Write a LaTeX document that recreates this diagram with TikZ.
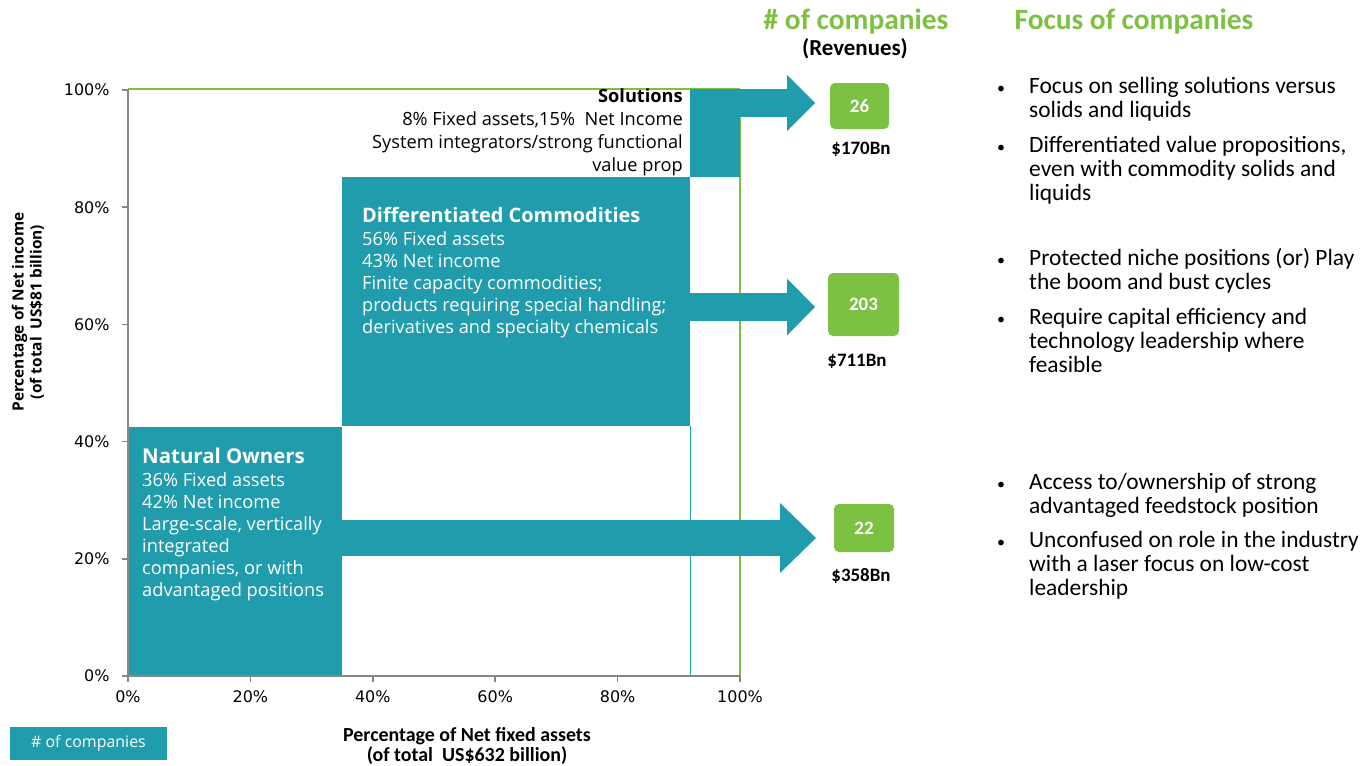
\documentclass[tikz,border=0pt]{standalone}
\usepackage{fontspec}
\setmainfont{Open Sans}
\newfontfamily\calfont{Carlito}
\newfontfamily\tickfont{DejaVu Sans}
\usetikzlibrary{arrows.meta}

\definecolor{boxteal}{RGB}{32,156,173}
\definecolor{leafgreen}{RGB}{125,193,66}
\definecolor{axisgray}{RGB}{134,134,134}

\tikzset{
  segment/.style={fill=boxteal,draw=none,inner sep=0pt,anchor=north west},
  flow/.style={draw=boxteal},
  count/.style={fill=leafgreen,rounded corners=5bp,text=white,inner sep=0pt,
    font=\calfont\bfseries\fontsize{19}{22}\selectfont},
  revenue/.style={font=\calfont\bfseries\fontsize{19}{22}\selectfont},
  boxtext/.style={inner sep=0pt,align=left,font=\fontsize{18.3}{22}\selectfont},
  focus/.style={inner sep=0pt,align=left,anchor=base west,
    font=\calfont\fontsize{23.5}{23.8}\selectfont},
  tick/.style={font=\tickfont\fontsize{16}{18}\selectfont},
  axisline/.style={draw=axisgray,line width=1.5bp},
  frameline/.style={draw=leafgreen,line width=1.5bp}
}

\begin{document}
\begin{tikzpicture}[x=1bp,y=-1bp]
  \useasboundingbox (0,0) rectangle (1372,765);

  % plot frame
  \draw[frameline] (128,89) -- (740,89);
  \draw[frameline] (740,117) -- (740,676);

  % segments
  \node[segment,minimum width=214bp,minimum height=249bp] (natural) at (128,427) {};
  \node[segment,minimum width=348bp,minimum height=249bp] (diff) at (342,177) {};
  \node[segment,minimum width=50bp,minimum height=88bp] (solutions) at (690,89) {};
  \draw[boxteal,line width=0.8bp] (diff.south east) -- (diff.south east |- natural.south);

  % axes
  \draw[axisline] (128,89) -- (128,676) -- (740,676);
  \foreach \v in {0,20,...,100}{
    \draw[axisline] (122,{676-5.86*\v}) -- (128,{676-5.86*\v});
    \node[tick,anchor=east] (ytick\v) at (113,{676-5.86*\v}) {\v\%};
    \draw[axisline] ({128+6.12*\v},676) -- ({128+6.12*\v},682);
    \node[tick] (xtick\v) at ({128+6.12*\v},697) {\v\%};
  }

  % arrows to the counts
  \coordinate (tipS) at (815,103);
  \coordinate (tipD) at (815,307);
  \coordinate (tipN) at (816,538);
  \draw[flow,line width=28bp,-{Triangle[width=56bp,length=28bp,line width=0pt]}]
    (solutions.east |- tipS) -- (tipS);
  \draw[flow,line width=28bp,-{Triangle[width=57bp,length=28bp,line width=0pt]}]
    (diff.east |- tipD) -- (tipD);
  \draw[flow,line width=36bp,-{Triangle[width=70bp,length=36bp,line width=0pt]}]
    (natural.east |- tipN) -- (tipN);

  % segment texts (anchored at the baseline of their last line)
  \node[boxtext,anchor=base east,align=right,font=\fontsize{18.3}{23}\selectfont] (soltext) at (683,171.5)
    {{\bfseries Solutions}\\
     8\% Fixed assets,15\%\ \ Net Income\\
     System integrators/strong functional\\
     value prop};
  \node[boxtext,anchor=base west,text=white] (difftext) at (362,333.5)
    {{\fontsize{20}{22}\selectfont\bfseries Differentiated Commodities}\\[1bp]
     56\% Fixed assets\\
     43\% Net income\\
     Finite capacity commodities;\\
     products requiring special handling;\\
     derivatives and specialty chemicals};
  \node[boxtext,anchor=base west,text=white] (nattext) at (142,596.5)
    {{\fontsize{20.5}{22}\selectfont\bfseries Natural Owners}\\[1.5bp]
     36\% Fixed assets\\
     42\% Net income\\
     Large-scale, vertically\\
     integrated\\
     companies, or with\\
     advantaged positions};

  % counts and revenues
  \node[count,minimum width=59bp,minimum height=46bp] (c26) at (859.5,106) {26};
  \node[count,minimum width=71bp,minimum height=63bp] (c203) at (863.5,304.5) {203};
  \node[count,minimum width=60bp,minimum height=48bp] (c22) at (864,528) {22};
  \node[revenue] (rev26) at (861,149) {\$170Bn};
  \node[revenue] (rev203) at (857,361) {\$711Bn};
  \node[revenue] (rev22) at (861,576) {\$358Bn};

  % headers
  \node[font=\calfont\bfseries\fontsize{29.5}{32}\selectfont,text=leafgreen] (hcount) at (856,21) {\# of companies};
  \node[font=\calfont\bfseries\fontsize{23}{26}\selectfont] (hrev) at (855,49) {(Revenues)};
  \node[font=\calfont\bfseries\fontsize{29.5}{32}\selectfont,text=leafgreen] (hfocus) at (1134,21) {Focus of companies};

  % focus bullets
  \foreach \n/\y/\l/\t in {
    1/93.5/117.3/{Focus on selling solutions versus\\solids and liquids},
    2/152.5/200.1/{Differentiated value propositions,\\even with commodity solids and\\liquids},
    3/265.5/289.3/{Protected niche positions (or) Play\\the boom and bust cycles},
    4/324.5/372.1/{Require capital efficiency and\\technology leadership where\\feasible},
    5/489.5/513.3/{Access to/ownership of strong\\advantaged feedstock position},
    6/547.5/595.1/{Unconfused on role in the industry\\with a laser focus on low-cost\\leadership}}{
    \node[focus] (focus\n) at (1029,\l) {\t};
    \node[focus,font=\calfont\fontsize{16}{20}\selectfont] (dot\n) at (997,\y) {•};
  }

  % axis titles
  \node[font=\calfont\bfseries\fontsize{20}{18}\selectfont,align=center] (xtitle) at (467,746)
    {Percentage of Net fixed assets\\(of total\ \ US\$632 billion)};
  \node[font=\bfseries\fontsize{15.5}{18}\selectfont,align=center,rotate=90] (ytitle) at (28,312)
    {Percentage of Net income\\(of total\ \ US\$81 billion)};

  % legend
  \node[fill=boxteal,text=white,minimum width=157bp,minimum height=33bp,inner sep=0pt,
    font=\fontsize{16}{18}\selectfont] (legend) at (88.5,743.5) {\# of companies};
\end{tikzpicture}
\end{document}
